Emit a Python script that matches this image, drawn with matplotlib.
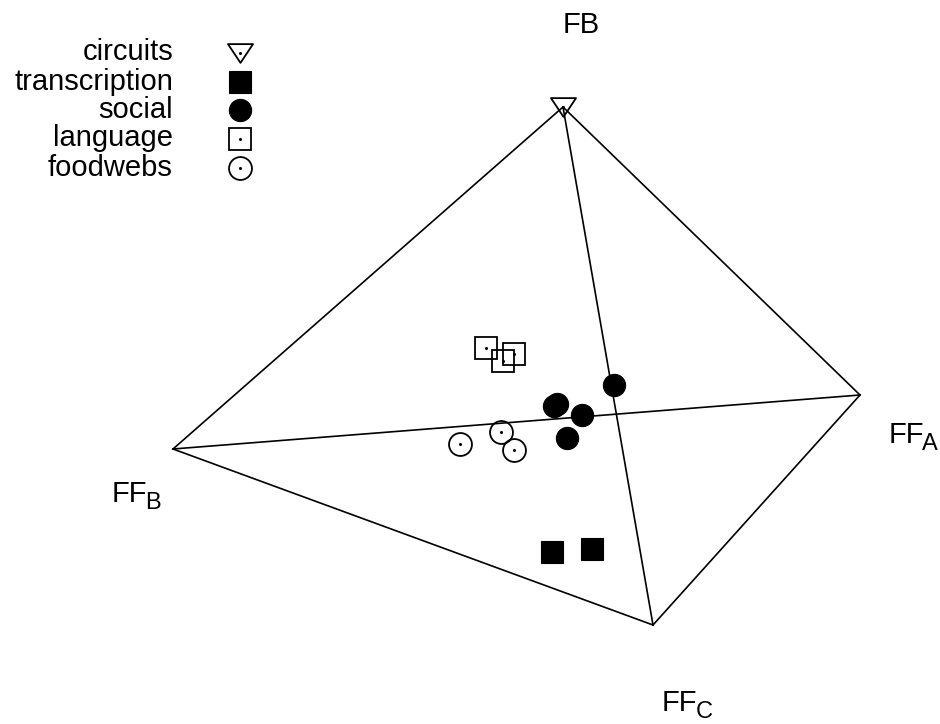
import matplotlib
matplotlib.use('Agg')
import matplotlib.pyplot as plt
from matplotlib.path import Path

plt.rcParams['font.family'] = ['Liberation Sans', 'DejaVu Sans']

# projected tetrahedron corners (picture coordinates)
vertex_names = ['FB', 'FF_A', 'FF_B', 'FF_C']
vertex_x = [563, 860, 173, 653]
vertex_y = [107, 395, 449, 625]
edges = [(0, 1), (0, 2), (0, 3), (2, 1), (2, 3), (3, 1)]

# corner labels: main text + subscript
label_main = ['FB', 'FF', 'FF', 'FF']
label_sub = ['', 'A', 'B', 'C']
label_x = [581, 889, 112, 662]
label_y = [33, 443, 502, 711]
label_ha = ['center', 'left', 'left', 'left']

# network classes
circuits_x = [563]
circuits_y = [107]
transcription_x = [552, 592]
transcription_y = [552, 549]
social_x = [554, 557, 582, 567, 614]
social_y = [406, 404, 415, 438, 385]
language_x = [486, 514, 503]
language_y = [348, 354, 361]
foodwebs_x = [460, 501, 514]
foodwebs_y = [444, 432, 450]

legend_names = ['circuits', 'transcription', 'social', 'language', 'foodwebs']

tri = Path([(-1, 0.75), (1, 0.75), (0, -0.75), (-1, 0.75)], closed=True)
styles = {
    'circuits': dict(marker=tri, ms=18, mfc='none', mec='k', mew=1.3, dot=True),
    'transcription': dict(marker='s', ms=16, mfc='k', mec='k', mew=0.8, dot=False),
    'social': dict(marker='o', ms=16, mfc='k', mec='k', mew=0.8, dot=False),
    'language': dict(marker='s', ms=16.5, mfc='none', mec='k', mew=1.3, dot=True),
    'foodwebs': dict(marker='o', ms=16.5, mfc='none', mec='k', mew=1.3, dot=True),
}
series = {
    'circuits': (circuits_x, circuits_y),
    'transcription': (transcription_x, transcription_y),
    'social': (social_x, social_y),
    'language': (language_x, language_y),
    'foodwebs': (foodwebs_x, foodwebs_y),
}


def draw_marks(ax, xs, ys, st):
    ax.plot(xs, ys, linestyle='none', marker=st['marker'], markersize=st['ms'],
            markerfacecolor=st['mfc'], markeredgecolor=st['mec'],
            markeredgewidth=st['mew'], zorder=3)
    if st['dot']:
        ax.plot(xs, ys, linestyle='none', marker='o', markersize=1.2,
                color='k', zorder=4)


fig = plt.figure(figsize=(9.4, 7.24), dpi=100)
ax = fig.add_axes([0, 0, 1, 1])
ax.set_xlim(0, 940)
ax.set_ylim(724, 0)
ax.axis('off')

for a, b in edges:
    ax.plot([vertex_x[a], vertex_x[b]], [vertex_y[a], vertex_y[b]],
            color='k', lw=1.2, zorder=2)

for name in legend_names:
    xs, ys = series[name]
    draw_marks(ax, xs, ys, styles[name])

for main, sub, x, y, ha in zip(label_main, label_sub, label_x, label_y, label_ha):
    t = ax.text(x, y, main, fontsize=21, ha=ha, va='baseline')
    if sub:
        ax.annotate(sub, xy=(1, 0), xycoords=t, xytext=(-1.5, -1),
                    textcoords='offset points', fontsize=17, va='baseline')

# legend
leg_y = [53, 82, 110, 139, 168]
for name, y in zip(legend_names, leg_y):
    ax.text(173, y + 7.5, name, fontsize=21, ha='right', va='baseline')
    draw_marks(ax, [240], [y], styles[name])

fig.savefig('out.png', dpi=100)
